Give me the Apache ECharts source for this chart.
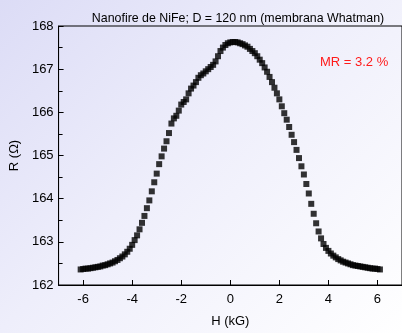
<!DOCTYPE html>
<html>
<head>
<meta charset="UTF-8" />
<title>Nanofire NiFe MR</title>
<script src="https://cdn.jsdelivr.net/npm/echarts@6/dist/echarts.min.js"></script>
<style type="text/css">
body{
	margin: 0px;
}
#chart{
	width: 402px;
	height: 333px;
	background: linear-gradient(135deg, #dcdcf6 0%, #eeeefb 45%, #ffffff 100%);
}
</style>
</head>
<body>
<div id="chart"></div>
<script type="text/javascript">

// field H (kG), one sweep
var fieldH = [
	-6.1, -6.0, -5.9, -5.8, -5.7, -5.6, -5.5, -5.4, -5.3, -5.2, -5.1,
	-5.0, -4.9, -4.8, -4.7, -4.6, -4.5, -4.4, -4.3, -4.2, -4.1,
	-4.0, -3.9, -3.8, -3.7, -3.6, -3.5, -3.4, -3.3, -3.2, -3.1,
	-3.0, -2.9, -2.8, -2.7, -2.6, -2.5, -2.4, -2.3, -2.2, -2.1,
	-2.0, -1.9, -1.8, -1.7, -1.6, -1.5, -1.4, -1.3, -1.2, -1.1,
	-1.0, -0.9, -0.8, -0.7, -0.6, -0.5, -0.4, -0.3, -0.2, -0.1,
	0.0, 0.1, 0.2, 0.3, 0.4, 0.5, 0.6, 0.7, 0.8, 0.9,
	1.0, 1.1, 1.2, 1.3, 1.4, 1.5, 1.6, 1.7, 1.8, 1.9,
	2.0, 2.1, 2.2, 2.3, 2.4, 2.5, 2.6, 2.7, 2.8, 2.9,
	3.0, 3.1, 3.2, 3.3, 3.4, 3.5, 3.6, 3.7, 3.8, 3.9,
	4.0, 4.1, 4.2, 4.3, 4.4, 4.5, 4.6, 4.7, 4.8, 4.9,
	5.0, 5.1, 5.2, 5.3, 5.4, 5.5, 5.6, 5.7, 5.8, 5.9,
	6.0, 6.1
];

// resistance R (ohm)
var resistR = [
	162.36, 162.37, 162.38, 162.38, 162.39, 162.40, 162.41, 162.42, 162.43, 162.45, 162.46,
	162.48, 162.50, 162.52, 162.55, 162.58, 162.62, 162.66, 162.71, 162.77, 162.84,
	162.93, 163.04, 163.15, 163.29, 163.44, 163.60, 163.78, 163.96, 164.17, 164.38,
	164.58, 164.80, 164.98, 165.16, 165.33, 165.52, 165.74, 165.86, 165.92, 166.04,
	166.18, 166.24, 166.30, 166.44, 166.55, 166.62, 166.70, 166.80, 166.86, 166.90,
	166.95, 167.00, 167.05, 167.10, 167.18, 167.30, 167.42, 167.50, 167.56, 167.60,
	167.62, 167.63, 167.63, 167.62, 167.60, 167.58, 167.55, 167.52, 167.47, 167.42,
	167.37, 167.30, 167.22, 167.14, 167.04, 166.94, 166.82, 166.70, 166.57, 166.44,
	166.30, 166.14, 165.98, 165.83, 165.66, 165.48, 165.31, 165.13, 164.94, 164.75,
	164.56, 164.34, 164.12, 163.88, 163.65, 163.43, 163.24, 163.08, 162.95, 162.86,
	162.79, 162.73, 162.68, 162.64, 162.60, 162.57, 162.54, 162.52, 162.50, 162.48,
	162.46, 162.45, 162.44, 162.43, 162.42, 162.41, 162.40, 162.39, 162.38, 162.38,
	162.37, 162.36
];

var xTicks = [-6, -4, -2, 0, 2, 4, 6];
var yTicks = [162, 163, 164, 165, 166, 167, 168];

var chartTitle = 'Nanofire de NiFe; D = 120 nm (membrana Whatman)';
var mrLabel = 'MR = 3.2 %';

var points = fieldH.map(function(h, i){ return [h, resistR[i]]; });

var font = 'Liberation Sans, Arial, sans-serif';
var myChart = echarts.init(document.getElementById('chart'), null, {renderer: 'canvas'});

myChart.setOption({
	animation: false,
	backgroundColor: 'transparent',
	title: {
		text: chartTitle,
		left: 233,
		textAlign: 'center',
		top: 8,
		textStyle: {fontFamily: font, fontSize: 12.4, fontWeight: 'normal', color: '#000'}
	},
	grid: {
		left: 58, top: 26, width: 347, height: 259,
		show: true, borderColor: '#000', borderWidth: 1, backgroundColor: 'transparent'
	},
	xAxis: {
		type: 'value',
		min: -7, max: 7, interval: 2,
		name: 'H (kG)', nameLocation: 'middle', nameGap: 30,
		nameTextStyle: {fontFamily: font, fontSize: 13, color: '#000'},
		axisLine: {show: true, onZero: false, lineStyle: {color: '#000', width: 1}},
		axisTick: {show: true, inside: true, length: 5, lineStyle: {color: '#000'},
			customValues: xTicks},
		minorTick: {show: true, splitNumber: 2, length: 3, lineStyle: {color: '#000'}},
		axisLabel: {fontFamily: font, fontSize: 13, color: '#000', margin: 8,
			customValues: xTicks},
		splitLine: {show: false}
	},
	yAxis: {
		type: 'value',
		min: 162, max: 168, interval: 1,
		name: 'R (\u03A9)', nameLocation: 'middle', nameGap: 33,
		nameTextStyle: {fontFamily: font, fontSize: 13, color: '#000'},
		axisLine: {show: true, onZero: false, lineStyle: {color: '#000', width: 1}},
		axisTick: {show: true, inside: true, length: 5, lineStyle: {color: '#000'}},
		minorTick: {show: true, splitNumber: 2, length: 4, lineStyle: {color: '#000'}},
		axisLabel: {fontFamily: font, fontSize: 13, color: '#000', margin: 5,
			customValues: yTicks},
		splitLine: {show: false}
	},
	graphic: [{
		type: 'text',
		left: 320, top: 56,
		style: {text: mrLabel, fill: '#ff1a1a', font: '13px ' + font}
	}],
	series: [{
		type: 'scatter',
		data: points,
		symbol: 'rect',
		symbolSize: 6,
		itemStyle: {color: '#000'},
		clip: false
	}]
});

</script>
</body>
</html>
